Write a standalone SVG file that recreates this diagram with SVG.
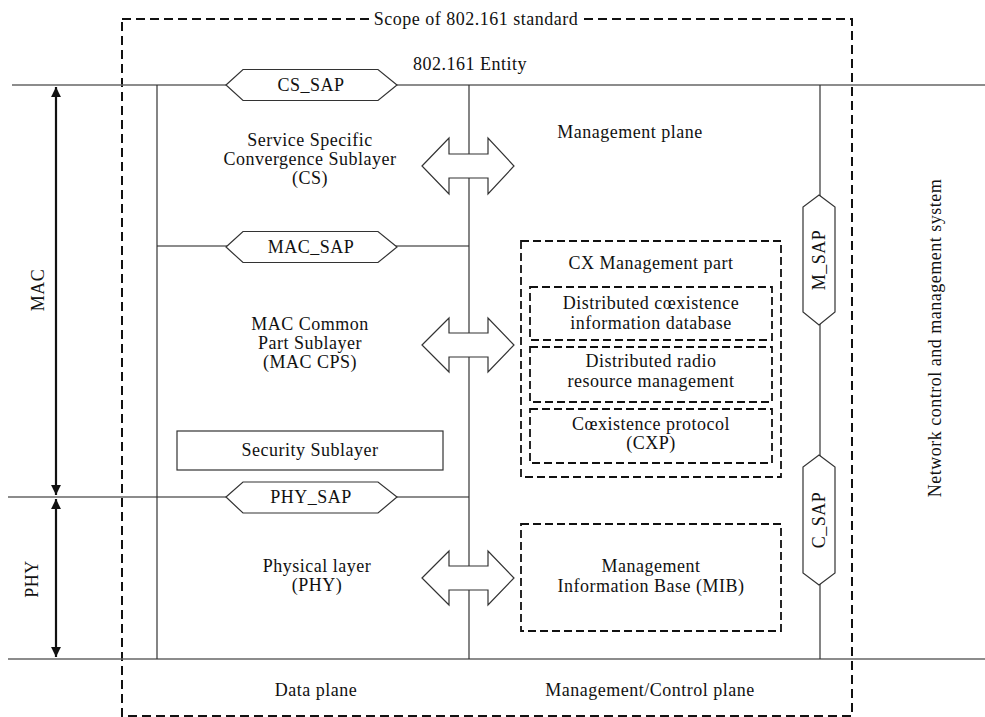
<svg xmlns="http://www.w3.org/2000/svg" width="985" height="717" viewBox="0 0 985 717">
<defs>
<style>
text{font-family:"Liberation Serif","Times New Roman",serif;font-size:18px;fill:#111;text-anchor:middle;letter-spacing:0.5px}
.ln{stroke:#666;stroke-width:1.6;fill:none}
.vl{stroke:#333;stroke-width:1.2;fill:none}
.dash{stroke:#111;stroke-width:2;fill:none;stroke-dasharray:9,5}
.dash2{stroke:#111;stroke-width:1.8;fill:none;stroke-dasharray:8,4}
.hex{fill:#fff;stroke:#333;stroke-width:1.2}
.dar{fill:#fff;stroke:#333;stroke-width:1.2;stroke-linejoin:miter}
.dim{stroke:#111;stroke-width:2.2;fill:none}
</style>
<marker id="ah" viewBox="0 0 10 10" refX="10" refY="5" markerWidth="4.5" markerHeight="4.5" orient="auto-start-reverse" markerUnits="strokeWidth">
<path d="M0,0 L10,5 L0,10 z" fill="#111"/>
</marker>
</defs>

<g id="scope">
<rect class="dash" x="122" y="19" width="730" height="697"/>
<rect x="371" y="9" width="210" height="20" fill="#fff"/>
<text x="476" y="25">Scope of 802.161 standard</text>
</g>

<g id="connectors">
<line class="ln" x1="12" y1="85" x2="985" y2="85"/>
<line class="ln" x1="157" y1="246" x2="469" y2="246"/>
<line class="ln" x1="8" y1="497" x2="469" y2="497"/>
<line class="ln" x1="8" y1="659" x2="985" y2="659"/>
<line class="vl" x1="157" y1="85" x2="157" y2="659"/>
<line class="vl" x1="469" y1="85" x2="469" y2="659"/>
<line class="vl" x1="820" y1="85" x2="820" y2="659"/>
<line class="dim" x1="56" y1="87" x2="56" y2="495" marker-start="url(#ah)" marker-end="url(#ah)"/>
<line class="dim" x1="56" y1="499" x2="56" y2="657" marker-start="url(#ah)" marker-end="url(#ah)"/>
</g>

<g id="entity-label"><text x="470" y="70">802.161 Entity</text></g>

<g id="cs-sap">
<polygon class="hex" points="226,85 243,69.5 378,69.5 397,85 378,100.5 243,100.5"/>
<text x="311" y="91">CS_SAP</text>
</g>
<g id="mac-sap">
<polygon class="hex" points="226,247 243,231.5 378,231.5 397,247 378,262.5 243,262.5"/>
<text x="311" y="253">MAC_SAP</text>
</g>
<g id="phy-sap">
<polygon class="hex" points="226,497 243,482 378,482 397,497 378,513 243,513"/>
<text x="311" y="503">PHY_SAP</text>
</g>

<g id="cs">
<text x="310" y="146">Service Specific</text>
<text x="310" y="165">Convergence Sublayer</text>
<text x="310" y="184">(CS)</text>
</g>
<g id="mac-cps">
<text x="310" y="330">MAC Common</text>
<text x="310" y="349">Part Sublayer</text>
<text x="310" y="368">(MAC CPS)</text>
</g>
<g id="security">
<rect x="177" y="431" width="266" height="39" fill="#fff" stroke="#333" stroke-width="1.2"/>
<text x="310" y="456">Security Sublayer</text>
</g>
<g id="phy">
<text x="317" y="572">Physical layer</text>
<text x="317" y="591">(PHY)</text>
</g>

<g id="arrow-cs">
<polygon class="dar" points="422,166 449,138 449,154 488,154 488,138 514,166 488,194 488,178 449,178 449,194"/>
</g>
<g id="arrow-mac">
<polygon class="dar" points="422,345 449,318 449,333 488,333 488,318 514,345 488,372 488,357 449,357 449,372"/>
</g>
<g id="arrow-phy">
<polygon class="dar" points="422,578 449,551 449,566 488,566 488,551 514,578 488,605 488,590 449,590 449,605"/>
</g>

<g id="mgmt-plane"><text x="630" y="138">Management plane</text></g>

<g id="cx-part">
<rect class="dash2" x="521" y="241" width="260" height="236"/>
<text x="651" y="269">CX Management part</text>
</g>
<g id="cx-db">
<rect class="dash2" x="530" y="287" width="242" height="53"/>
<text x="651" y="309">Distributed cœxistence</text>
<text x="651" y="329">information database</text>
</g>
<g id="cx-rrm">
<rect class="dash2" x="530" y="347" width="242" height="55"/>
<text x="651" y="367">Distributed radio</text>
<text x="651" y="387">resource management</text>
</g>
<g id="cx-cxp">
<rect class="dash2" x="530" y="409" width="242" height="54"/>
<text x="651" y="430">Cœxistence protocol</text>
<text x="651" y="449">(CXP)</text>
</g>
<g id="mib">
<rect class="dash2" x="521" y="524" width="260" height="107"/>
<text x="651" y="572">Management</text>
<text x="651" y="592">Information Base (MIB)</text>
</g>

<g id="m-sap">
<polygon class="hex" points="819,195 835,207 835,312 819,325 803,312 803,207"/>
<text transform="translate(825,260) rotate(-90)">M_SAP</text>
</g>
<g id="c-sap">
<polygon class="hex" points="819,455 835,467 835,573 819,585 803,573 803,467"/>
<text transform="translate(825,520) rotate(-90)">C_SAP</text>
</g>

<g id="nms"><text transform="translate(941,338) rotate(-90)">Network control and management system</text></g>
<g id="mac-label"><text transform="translate(44,290) rotate(-90)">MAC</text></g>
<g id="phy-label"><text transform="translate(38,579) rotate(-90)">PHY</text></g>

<g id="data-plane"><text x="316" y="696">Data plane</text></g>
<g id="mc-plane"><text x="650" y="696">Management/Control plane</text></g>
</svg>
